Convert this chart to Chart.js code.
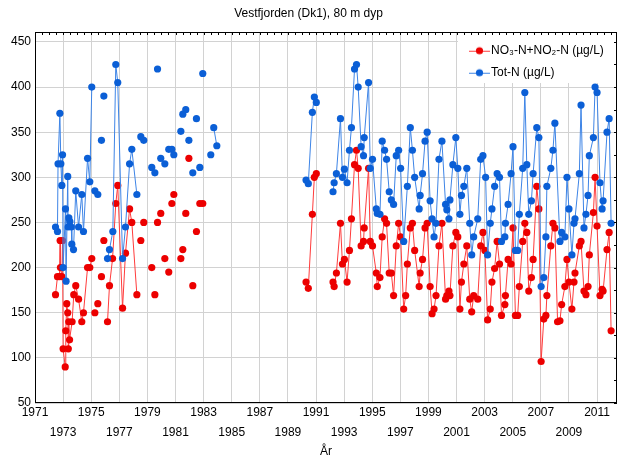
<!DOCTYPE html>
<html>
<head>
<meta charset="utf-8">
<script src="https://cdn.jsdelivr.net/npm/chart.js@4.4.1/dist/chart.umd.min.js"></script>
<style>
html,body{margin:0;padding:0;background:#fff;}
#wrap{width:624px;height:468px;}
</style>
</head>
<body>
<div id="wrap"><canvas id="c" width="624" height="468"></canvas></div>
<script>
// ---------- texts ----------
const chartTitle = 'Vestfjorden (Dk1), 80 m dyp';
const xAxisTitle = 'År';
const no3Label = 'NO₃-N+NO₂-N (µg/L)';
const totNLabel = 'Tot-N (µg/L)';

// ---------- tick labels ----------
const yearTicks = [1971,1973,1975,1977,1979,1981,1983,1985,1987,1989,1991,1993,1995,1997,1999,2001,2003,2005,2007,2009,2011];
const valueTicks = [50,100,150,200,250,300,350,400,450];
const minorYearStep = 0.5;
const minorValueStep = 25;

// ---------- series (null = line break) ----------
const no3Years = [
 1972.46,1972.60,1972.74,1972.79,1972.81,1972.91,1972.96,1973.00,1973.15,1973.19,1973.26,1973.33,1973.37,1973.40,1973.46,1973.64,1973.76,1973.90,1974.10,1974.33,1974.45,1974.74,1974.90,1975.04,null,
 1975.26,null,1975.47,null,1975.73,null,1975.90,null,
 1976.16,1976.30,1976.52,1976.75,1976.89,1977.23,1977.44,1977.73,1977.89,1978.25,null,
 1978.53,null,1978.74,null,1979.31,null,1979.53,null,1979.72,null,1979.95,null,1980.24,null,1980.52,null,1980.74,null,1980.88,null,
 1981.38,null,1981.52,null,1981.73,null,1981.95,null,1982.23,null,1982.49,null,1982.73,null,1982.94,null,
 1990.29,1990.45,1990.74,1990.88,1991.02,null,
 1992.21,1992.29,1992.45,1992.74,1992.88,1993.02,1993.21,1993.38,1993.52,1993.74,1993.88,1994.00,1994.21,1994.38,1994.43,1994.74,1994.86,
 1995.02,1995.29,1995.36,1995.55,1995.71,1995.88,1996.02,1996.21,1996.36,1996.52,1996.71,1996.88,1997.02,1997.24,1997.38,1997.50,1997.71,1997.86,
 1998.02,1998.34,1998.41,1998.58,1998.76,1998.91,1999.12,1999.26,1999.40,1999.54,1999.75,1999.96,2000.22,2000.31,2000.46,2000.53,2000.74,2000.95,
 2001.09,2001.24,2001.35,2001.52,2001.73,2001.94,2002.08,2002.22,2002.51,2002.72,2002.88,2003.02,2003.21,2003.40,2003.52,2003.71,2003.89,
 2004.06,2004.20,2004.44,2004.48,2004.67,2004.88,2005.02,2005.19,2005.35,2005.47,2005.71,2005.86,2006.00,2006.14,2006.33,2006.45,2006.71,2006.86,
 2007.02,2007.21,2007.36,2007.43,2007.71,2007.86,2008.00,2008.19,2008.36,2008.48,2008.71,2008.86,2009.00,2009.21,2009.36,2009.43,2009.74,2009.86,
 2010.07,2010.21,2010.36,2010.45,2010.74,2010.86,2011.00,2011.21,2011.36,2011.43,2011.71,2011.86,2012.00
];
const no3Values = [
 170,190,190,230,200,190,230,110,90,130,160,150,110,140,120,140,170,180,165,140,150,200,200,210,null,
 150,null,160,null,190,null,230,null,
 140,180,210,271,291,155,216,265,250,170,null,
 230,null,250,null,200,null,170,null,250,null,260,null,210,null,195,null,271,null,281,null,
 210,null,220,null,260,null,321,null,180,null,240,null,271,null,271,null,
 184,177,259,300,304,null,
 184,179,194,249,204,209,184,219,254,314,330,310,224,229,244,310,229,
 224,194,179,189,234,254,249,194,194,169,224,249,234,154,169,204,244,249,
 219,179,194,209,244,249,179,149,154,169,224,249,165,169,174,169,224,239,
 234,154,184,204,224,165,151,169,165,224,239,219,142,154,184,199,229,
 204,147,159,169,209,204,244,147,147,179,229,249,239,174,189,209,290,265,
 96,143,147,169,224,249,244,140,141,159,179,209,184,154,184,194,224,229,
 174,170,179,214,261,300,246,169,176,174,220,239,130
];

const totNYears = [
 1972.46,1972.60,1972.64,1972.77,1972.84,1972.91,1972.96,1973.00,1973.17,1973.21,1973.33,1973.36,1973.41,1973.48,1973.58,1973.62,1973.74,1973.90,1974.10,1974.33,1974.45,1974.74,1974.90,1975.04,null,
 1975.26,null,1975.47,null,1975.73,null,1975.90,null,
 1976.16,1976.30,1976.54,1976.75,1976.89,1977.23,1977.44,1977.73,1977.89,1978.25,null,
 1978.53,null,1978.74,null,1979.31,null,1979.53,null,1979.72,null,1979.95,null,1980.24,null,1980.52,null,1980.74,null,1980.88,null,
 1981.38,null,1981.52,null,1981.73,null,1981.95,null,1982.23,null,1982.49,null,1982.73,null,1982.94,null,1983.51,null,1983.72,1983.94,null,
 1990.29,1990.45,1990.74,1990.88,1991.02,null,
 1992.21,1992.29,1992.45,1992.74,1992.88,1993.02,1993.21,1993.38,1993.52,1993.74,1993.88,1994.00,1994.21,1994.38,1994.43,1994.74,1994.86,
 1995.02,1995.29,1995.36,1995.55,1995.71,1995.88,1996.02,1996.21,1996.36,1996.52,1996.71,1996.88,1997.02,1997.24,1997.50,1997.71,1997.86,
 1998.02,1998.34,1998.41,1998.58,1998.76,1998.91,1999.12,1999.26,1999.40,1999.54,1999.75,1999.96,2000.22,2000.31,2000.46,2000.53,2000.74,2000.95,
 2001.09,2001.24,2001.35,2001.52,2001.73,2001.94,2002.08,2002.22,2002.51,2002.72,2002.88,2003.07,2003.21,2003.40,2003.52,2003.71,2003.89,
 2004.06,2004.20,2004.44,2004.48,2004.67,2004.88,2005.02,2005.19,2005.35,2005.47,2005.71,2005.86,2006.00,2006.14,2006.33,2006.45,2006.71,2006.86,
 2007.02,2007.21,2007.36,2007.43,2007.71,2007.86,2008.00,2008.36,2008.48,2008.71,2008.86,2009.00,2009.21,2009.36,2009.43,2009.74,2009.86,
 2010.07,2010.21,2010.36,2010.45,2010.74,2010.86,2011.00,2011.21,2011.36,2011.43,2011.71,2011.86,2012.00
];
const totNValues = [
 245,240,315,371,315,291,325,200,265,185,301,245,255,251,245,226,220,285,245,281,240,321,295,400,null,
 285,null,281,null,341,null,390,null,
 210,220,240,425,405,210,245,315,331,281,null,
 345,null,341,null,311,null,305,null,420,null,321,null,315,null,331,null,331,null,325,null,
 351,null,370,null,375,null,341,null,305,null,365,null,311,null,415,null,325,null,355,335,null,
 297,293,372,389,383,null,
 284,294,304,365,300,309,294,330,355,420,425,400,334,324,344,405,310,
 320,265,260,259,340,330,320,284,275,270,324,330,310,229,290,355,330,
 300,265,280,304,340,350,274,254,234,249,320,340,270,264,254,275,314,344,
 310,259,280,290,310,249,214,234,254,320,324,300,214,249,265,290,304,
 300,229,234,249,270,304,334,219,219,259,310,394,314,259,274,304,355,344,
 179,189,234,290,310,330,360,229,239,234,300,265,214,249,254,304,380,
 244,259,280,324,344,400,394,294,265,274,350,365,249
];

// ---------- build ----------
function toPoints(years, values) {
  let last = years.find(v => v !== null);
  return years.map((yr, i) => {
    if (yr !== null) last = yr;
    return { x: yr === null ? last : yr, y: values[i] };
  });
}

const FONT = "'Liberation Sans', Arial, sans-serif";
const RED_LINE = '#ff3b3b', RED_PT = '#ec0000';
const BLUE_LINE = '#3d84e6', BLUE_PT = '#0b5fd6';

function legendIcon(lineColor, ptColor) {
  const c = document.createElement('canvas');
  c.width = 26; c.height = 10;
  const g = c.getContext('2d');
  g.strokeStyle = lineColor; g.lineWidth = 1;
  g.beginPath(); g.moveTo(5, 5.5); g.lineTo(26, 5.5); g.stroke();
  g.fillStyle = ptColor;
  g.beginPath(); g.arc(15.5, 5, 3.6, 0, Math.PI * 2); g.fill();
  return c;
}

const framePlugin = {
  id: 'frame',
  beforeLayout(chart) {
    const lg = chart.legend;
    if (lg && !lg._patchedLayer) {
      lg._patchedLayer = true;
      lg._layers = () => [{ z: 1, draw: (area) => {
        const ca = chart.chartArea, ctx = chart.ctx;
        ctx.save();
        ctx.fillStyle = '#ffffff';
        ctx.fillRect(lg.left - 1, ca.top, ca.right - lg.left + 1, 51);
        ctx.restore();
        lg.draw(area);
      }}];
    }
  },
  afterLayout(chart) {
    const lg = chart.legend, ca = chart.chartArea;
    if (!lg) return;
    const w = lg.width, h = lg.height;
    lg.left = ca.right - 158; lg.right = lg.left + w;
    lg.top = ca.top + 2.7; lg.bottom = lg.top + h;
    if (lg.adjustHitBoxes) lg.adjustHitBoxes();
  },
  afterDraw(chart) {
    const ca = chart.chartArea, ctx = chart.ctx;
    const xs = chart.scales.x, ys = chart.scales.y;
    ctx.save();
    ctx.strokeStyle = '#000'; ctx.lineWidth = 1;
    ctx.beginPath();
    // minor ticks on top border
    for (let v = xs.min; v <= xs.max + 1e-9; v += minorYearStep) {
      const px = Math.round(xs.getPixelForValue(v)) + 0.5;
      ctx.moveTo(px, ca.top); ctx.lineTo(px, ca.top + 3);
    }
    // minor ticks on right border
    for (let v = ys.min; v <= ys.max + 1e-9; v += minorValueStep) {
      const py = Math.round(ys.getPixelForValue(v)) + 0.5;
      ctx.moveTo(ca.right, py); ctx.lineTo(ca.right - 3, py);
    }
    ctx.stroke();
    ctx.strokeRect(Math.round(ca.left) + 0.5, Math.round(ca.top) + 0.5, Math.round(ca.width) - 1, Math.round(ca.height) - 1);
    ctx.restore();
  }
};

new Chart(document.getElementById('c'), {
  type: 'line',
  data: {
    datasets: [
      { label: no3Label, data: toPoints(no3Years, no3Values), order: 1,
        borderColor: RED_LINE, borderWidth: 1, backgroundColor: RED_PT,
        pointBackgroundColor: RED_PT, pointBorderColor: RED_PT, pointBorderWidth: 0,
        pointRadius: 3.6, pointStyle: 'circle', spanGaps: false, tension: 0 },
      { label: totNLabel, data: toPoints(totNYears, totNValues), order: 0,
        borderColor: BLUE_LINE, borderWidth: 1, backgroundColor: BLUE_PT,
        pointBackgroundColor: BLUE_PT, pointBorderColor: BLUE_PT, pointBorderWidth: 0,
        pointRadius: 3.6, pointStyle: 'circle', spanGaps: false, tension: 0 }
    ]
  },
  options: {
    responsive: false, animation: false, devicePixelRatio: 1,
    layout: { padding: { left: 0, right: 7, top: 0, bottom: 0 } },
    plugins: {
      title: { display: true, text: chartTitle, color: '#000',
        font: { family: FONT, size: 12, weight: 'normal', lineHeight: 1.2 },
        padding: { top: 6, bottom: 11.6 } },
      legend: {
        display: true, position: 'chartArea', align: 'start',
        labels: {
          color: '#000', font: { family: FONT, size: 12 }, padding: 10,
          usePointStyle: true, pointStyleWidth: 16,
          generateLabels(chart) {
            const icons = [legendIcon(RED_LINE, RED_PT), legendIcon(BLUE_LINE, BLUE_PT)];
            return chart.data.datasets.map((ds, i) => ({
              text: ds.label, fillStyle: ds.pointBackgroundColor, strokeStyle: ds.borderColor,
              lineWidth: 0, pointStyle: icons[i], hidden: false, datasetIndex: i, fontColor: '#000'
            }));
          }
        }
      },
      tooltip: { enabled: false }
    },
    scales: {
      x: {
        type: 'linear', min: 1971, max: 2012.42,
        afterBuildTicks: (s) => { s.ticks = yearTicks.map(v => ({ value: v })); },
        afterFit: (s) => { s.height = 65; },
        ticks: {
          autoSkip: false, maxRotation: 0, minRotation: 0, padding: 0.5, color: '#000',
          font: { family: FONT, size: 12, lineHeight: 1.6 },
          callback: (v) => { const i = yearTicks.indexOf(v); return i % 2 === 0 ? String(v) : ['', String(v)]; }
        },
        grid: { color: '#d2d2d2', lineWidth: 1, drawTicks: false },
        border: { display: false },
        title: { display: true, text: xAxisTitle, color: '#000',
          font: { family: FONT, size: 12, lineHeight: 1.2 }, padding: { top: 0, bottom: 8.8 } }
      },
      y: {
        type: 'linear', min: 50, max: 461,
        afterBuildTicks: (s) => { s.ticks = valueTicks.map(v => ({ value: v })); },
        afterFit: (s) => { s.width = 35; },
        ticks: { padding: 4, color: '#000', font: { family: FONT, size: 12 } },
        grid: { color: '#d2d2d2', lineWidth: 1, drawTicks: false },
        border: { display: false }
      }
    }
  },
  plugins: [framePlugin]
});
</script>
</body>
</html>
